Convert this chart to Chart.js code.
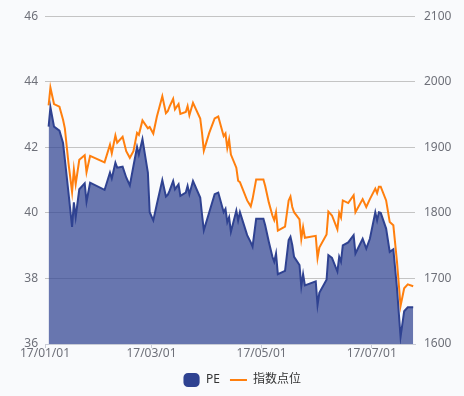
<!DOCTYPE html>
<html lang="zh">
<head>
  <meta charset="UTF-8">
  <title>PE 与指数点位</title>
  <script src="https://cdn.jsdelivr.net/npm/chart.js"></script>
  <style>
    html, body {
      margin: 0;
      height: 100%;
      background-color: #f9fafc;
    }
    #chartBox {
      width: 464px;
      height: 396px;
    }
  </style>
</head>
<body>

<div id="chartBox">
  <canvas id="peChart"></canvas>
</div>

<script>
// Handelstage
const dates = [
  '2017-01-03','2017-01-04','2017-01-06','2017-01-09','2017-01-11','2017-01-12','2017-01-14','2017-01-16',
  '2017-01-17','2017-01-18','2017-01-20','2017-01-23','2017-01-24','2017-01-26','2017-02-03','2017-02-06',
  '2017-02-07','2017-02-09','2017-02-10','2017-02-13','2017-02-15','2017-02-17','2017-02-19','2017-02-21',
  '2017-02-22','2017-02-24','2017-02-27','2017-02-28','2017-03-02','2017-03-04','2017-03-07','2017-03-09',
  '2017-03-10','2017-03-11','2017-03-13','2017-03-14','2017-03-16','2017-03-17','2017-03-20','2017-03-21',
  '2017-03-22','2017-03-24','2017-03-28','2017-03-29','2017-03-30','2017-04-02','2017-04-05','2017-04-07',
  '2017-04-10','2017-04-11','2017-04-12','2017-04-13','2017-04-14','2017-04-17','2017-04-18','2017-04-19',
  '2017-04-23','2017-04-25','2017-04-26','2017-04-28','2017-05-02','2017-05-03','2017-05-05','2017-05-07',
  '2017-05-08','2017-05-09','2017-05-10','2017-05-14','2017-05-16','2017-05-17','2017-05-18','2017-05-19',
  '2017-05-22','2017-05-23','2017-05-24','2017-05-25','2017-05-31','2017-06-01','2017-06-02','2017-06-06',
  '2017-06-07','2017-06-09','2017-06-12','2017-06-13','2017-06-14','2017-06-15','2017-06-18','2017-06-21',
  '2017-06-22','2017-06-26','2017-06-28','2017-06-30','2017-07-03','2017-07-04','2017-07-05','2017-07-06',
  '2017-07-09','2017-07-11','2017-07-13','2017-07-15','2017-07-17','2017-07-19','2017-07-21','2017-07-24'
];

const peValues = [
  42.63, 43.22, 42.63, 42.51, 42.13, 41.63, 40.62, 39.57,
  40.32, 39.87, 40.72, 40.90, 40.34, 40.92, 40.70, 41.23,
  41.05, 41.53, 41.38, 41.41, 41.08, 40.84, 41.43, 42.01,
  41.78, 42.25, 41.23, 40.02, 39.77, 40.27, 41.00, 40.50,
  40.55, 40.67, 40.97, 40.72, 40.87, 40.52, 40.62, 40.82,
  40.57, 40.97, 40.47, 39.95, 39.47, 40.02, 40.57, 40.62,
  40.02, 40.12, 39.72, 39.87, 39.42, 40.07, 39.77, 40.02,
  39.32, 39.10, 38.97, 39.82, 39.82, 39.62, 39.12, 38.66,
  38.51, 38.76, 38.13, 38.23, 39.17, 39.27, 39.02, 38.66,
  38.41, 37.76, 38.13, 37.79, 37.91, 37.19, 37.56, 37.96,
  38.71, 38.63, 38.21, 38.66, 38.51, 39.01, 39.10, 39.32,
  38.76, 39.21, 38.91, 39.21, 40.02, 39.77, 40.02, 40.00,
  39.52, 38.81, 38.89, 37.71, 36.22, 37.00, 37.12, 37.12
];

const indexValues = [
  1964, 1991, 1966, 1962, 1942, 1929, 1876, 1832,
  1866, 1844, 1881, 1888, 1862, 1887, 1877, 1904,
  1891, 1918, 1907, 1916, 1894, 1884, 1894, 1922,
  1919, 1941, 1929, 1931, 1921, 1947, 1978, 1952,
  1955, 1962, 1974, 1958, 1966, 1951, 1954, 1963,
  1949, 1968, 1944, 1922, 1895, 1922, 1944, 1947,
  1917, 1921, 1899, 1912, 1889, 1869, 1849, 1847,
  1819, 1810, 1821, 1851, 1851, 1841, 1816, 1796,
  1789, 1801, 1773, 1779, 1819, 1825, 1809, 1801,
  1790, 1760, 1778, 1762, 1765, 1731, 1747, 1767,
  1802, 1796, 1775, 1800, 1793, 1819, 1815, 1827,
  1801, 1821, 1809, 1821, 1837, 1830, 1840, 1840,
  1819, 1786, 1781, 1726, 1658, 1685, 1691, 1688
];

const tickDates = ['2017-01-01', '2017-03-01', '2017-05-01', '2017-07-01'];
const tickLabels = ['17/01/01', '17/03/01', '17/05/01', '17/07/01'];
const axisStart = '2017-01-01';
const axisEnd = '2017-07-25';

const dayOf = s => (Date.parse(s) - Date.parse(axisStart)) / 86400000;

const peColor = '#2f4291';
const indexColor = '#ff7f0e';
const labelColor = '#6e7079';

Chart.defaults.font.family = '"Noto Sans", "Noto Sans CJK SC", sans-serif';
Chart.defaults.font.size = 12;

// Legende etwas nach rechts schieben
const legendShift = {
  id: 'legendShift',
  afterLayout: chart => { chart.legend.left += 20; }
};

new Chart(document.getElementById('peChart'), {
  type: 'line',
  data: {
    datasets: [
      {
        label: 'PE',
        data: dates.map((d, i) => ({ x: dayOf(d), y: peValues[i] })),
        borderColor: peColor,
        backgroundColor: 'rgba(47, 66, 145, 0.72)',
        borderWidth: 2,
        fill: 'start',
        pointRadius: 0,
        tension: 0,
        pointStyle: 'rectRounded',
        yAxisID: 'yPE'
      },
      {
        label: '指数点位',
        data: dates.map((d, i) => ({ x: dayOf(d), y: indexValues[i] })),
        borderColor: indexColor,
        backgroundColor: indexColor,
        borderWidth: 2,
        fill: false,
        pointRadius: 0,
        tension: 0,
        pointStyle: 'line',
        yAxisID: 'yIdx'
      }
    ]
  },
  plugins: [legendShift],
  options: {
    responsive: true,
    maintainAspectRatio: false,
    animation: false,
    layout: { padding: { top: 10, bottom: 0, left: 0, right: 0 } },
    plugins: {
      tooltip: { enabled: false },
      legend: {
        position: 'bottom',
        labels: {
          color: '#333',
          usePointStyle: true,
          pointStyleWidth: 17,
          boxHeight: 10,
          padding: 10,
          generateLabels: chart => {
            const items = Chart.defaults.plugins.legend.labels.generateLabels(chart);
            items[0].fillStyle = peColor;
            return items;
          }
        }
      }
    },
    scales: {
      x: {
        type: 'linear',
        min: 0,
        max: dayOf(axisEnd),
        afterBuildTicks: scale => {
          scale.ticks = tickDates.map(d => ({ value: dayOf(d) }));
        },
        afterFit: scale => { scale.height = 20; },
        ticks: {
          color: labelColor,
          autoSkip: false,
          maxRotation: 0,
          padding: -2,
          callback: value => tickLabels[tickDates.findIndex(d => dayOf(d) === value)]
        },
        grid: { drawOnChartArea: false, drawTicks: true, tickLength: 4, color: '#c9ccd6' },
        border: { color: '#c9ccd6' }
      },
      yPE: {
        position: 'left',
        min: 36,
        max: 46,
        afterFit: scale => { scale.width = 45; },
        ticks: { stepSize: 2, color: labelColor, padding: 7 },
        grid: { color: '#c4c4c4', drawTicks: false },
        border: { display: false }
      },
      yIdx: {
        position: 'right',
        min: 1600,
        max: 2100,
        afterFit: scale => { scale.width = 49; },
        ticks: { stepSize: 100, color: labelColor, padding: 9, callback: v => String(v) },
        grid: { display: false, drawTicks: false },
        border: { display: false }
      }
    }
  }
});
</script>

</body>
</html>
